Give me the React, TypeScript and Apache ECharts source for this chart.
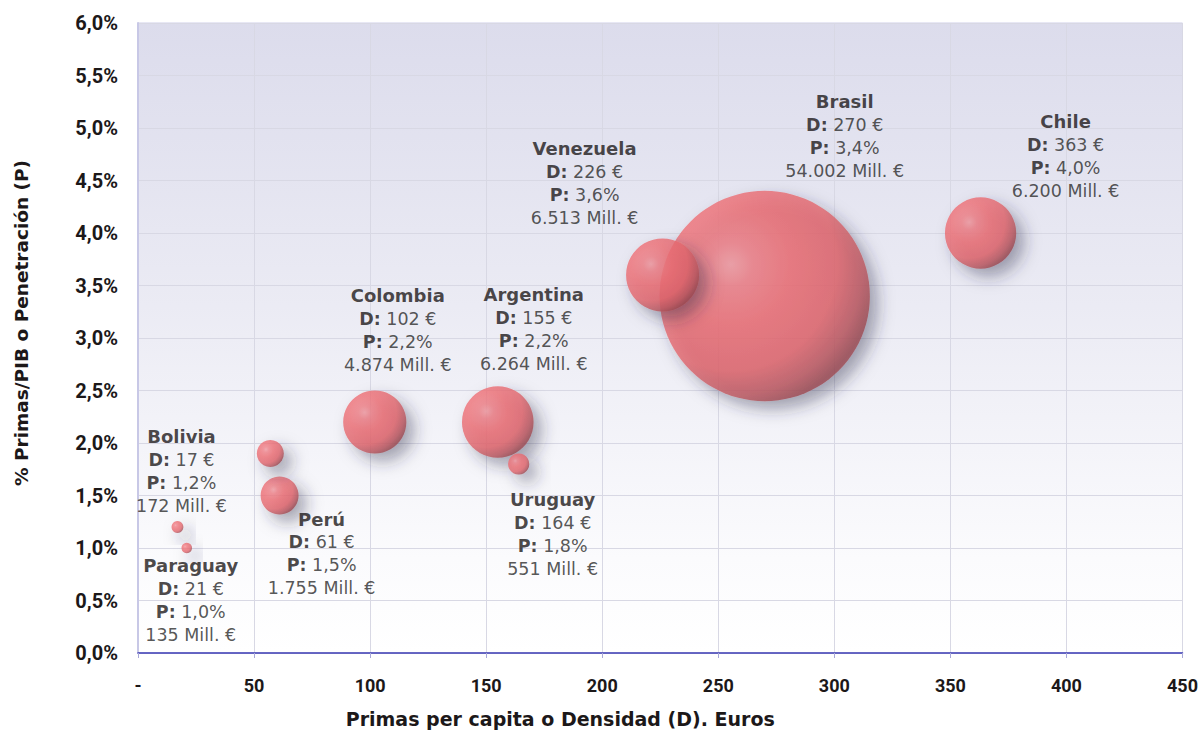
import React, { useEffect, useRef } from 'react';
import * as echarts from 'echarts';

// Insurance markets: density (premiums per capita, €), penetration (premiums / GDP, %)
// and total premium volume (million €) that sets the bubble area.
const countries = ['Brasil', 'Chile', 'Venezuela', 'Argentina', 'Colombia', 'Perú', '', 'Uruguay', 'Bolivia', 'Paraguay'];
const density = [270, 363, 226, 155, 102, 61, 57, 164, 17, 21];
const penetration = [3.4, 4.0, 3.6, 2.2, 2.2, 1.5, 1.9, 1.8, 1.2, 1.0];
const premiums = [54002, 6200, 6513, 6264, 4874, 1755, 890, 551, 172, 135];

const xMin = 0;
const xMax = 450;
const xStep = 50;
const yMin = 0;
const yMax = 6;
const yStep = 0.5;

const xAxisTitle = 'Primas per capita o Densidad (D). Euros';
const yAxisTitle = '% Primas/PIB o Penetración (P)';

// Pixel shift of each country's annotation from its bubble centre.
const labelShift: Record<string, [number, number]> = {
  Brasil: [80, -160],
  Chile: [85, -77],
  Venezuela: [-78, -92],
  Argentina: [36, -93],
  Colombia: [23, -92],
  'Perú': [42, 58],
  Uruguay: [34, 70],
  Bolivia: [4, -56],
  Paraguay: [4, 52],
};

const LABEL_FONT = '"DejaVu Sans", "Open Sans", sans-serif';
const AXIS_FONT = 'Roboto, "DejaVu Sans", sans-serif';
const INK = '#1c1819';
const VALUE_INK = '#2b2b2b';

const thousands = (v: number) => String(v).replace(/\B(?=(\d{3})+(?!\d))/g, '.');
const decimal = (v: number) => v.toFixed(1).replace('.', ',');

export default function App() {
  const ref = useRef<HTMLDivElement>(null);

  useEffect(() => {
    if (!ref.current) return;
    const chart = echarts.init(ref.current, undefined, { renderer: 'svg' });

    const bubbleFill = new echarts.graphic.RadialGradient(0.34, 0.35, 0.7, [
      { offset: 0, color: '#f29aa1' },
      { offset: 0.15, color: '#f08087' },
      { offset: 0.4, color: '#ee6f75' },
      { offset: 0.72, color: '#e2666d' },
      { offset: 0.9, color: '#bc5860' },
      { offset: 1, color: '#9b4a52' },
    ]);

    const points = countries.map((name, i) => {
      const shift = labelShift[name];
      return {
        name,
        value: [density[i], penetration[i], premiums[i]],
        label: shift
          ? { show: true, position: 'inside', offset: shift }
          : { show: false },
      };
    });

    const option: any = {
      animation: false,
      backgroundColor: '#ffffff',
      textStyle: { fontFamily: AXIS_FONT },
      grid: {
        left: 138,
        right: 14,
        top: 23,
        bottom: 75,
        show: true,
        borderWidth: 1,
        borderColor: '#cfcfe8',
        backgroundColor: new echarts.graphic.LinearGradient(0, 0, 0, 1, [
          { offset: 0, color: '#dcdcec' },
          { offset: 0.45, color: '#ebebf4' },
          { offset: 0.85, color: '#fbfbfd' },
          { offset: 1, color: '#ffffff' },
        ]),
      },
      xAxis: {
        type: 'value',
        min: xMin,
        max: xMax,
        interval: xStep,
        name: xAxisTitle,
        nameLocation: 'middle',
        nameGap: 56,
        nameTextStyle: {
          fontFamily: LABEL_FONT,
          fontSize: 19,
          fontWeight: 'bold',
          color: INK,
          padding: [0, 200, 0, 0],
        },
        axisLine: { show: true, lineStyle: { color: '#3d3db5', width: 1.5 } },
        axisTick: { show: true, length: 5, lineStyle: { color: '#a8a8d8' } },
        axisLabel: {
          margin: 23,
          fontFamily: AXIS_FONT,
          fontSize: 18,
          fontWeight: 'bold',
          color: INK,
          formatter: (v: number) => (v === 0 ? '-' : String(v)),
        },
        splitLine: { show: true, lineStyle: { color: '#d8d8e4', width: 1 } },
      },
      yAxis: {
        type: 'value',
        min: yMin,
        max: yMax,
        interval: yStep,
        name: yAxisTitle,
        nameLocation: 'middle',
        nameRotate: 90,
        nameGap: 107,
        nameTextStyle: {
          fontFamily: LABEL_FONT,
          fontSize: 18.5,
          fontWeight: 'bold',
          color: INK,
          padding: [0, 0, 0, 30],
        },
        axisLine: { show: true, lineStyle: { color: '#c8c8e6', width: 2 } },
        axisTick: { show: false },
        axisLabel: {
          margin: 20,
          fontFamily: AXIS_FONT,
          fontSize: 20,
          fontWeight: 'bold',
          color: INK,
          formatter: (v: number) => decimal(v) + '%',
        },
        splitLine: { show: true, lineStyle: { color: '#d8d8e4', width: 1 } },
      },
      series: [
        {
          type: 'scatter',
          data: points,
          symbol: 'circle',
          symbolSize: (val: number[]) => 0.905 * Math.sqrt(val[2]),
          itemStyle: {
            color: bubbleFill,
            shadowColor: 'rgba(40, 40, 70, 0.5)',
            shadowBlur: 16,
            shadowOffsetX: 8,
            shadowOffsetY: 8,
          },
          emphasis: { disabled: true },
          label: {
            show: true,
            position: 'inside',
            align: 'center',
            verticalAlign: 'middle',
            formatter: (p: any) => {
              const [d, pen, prem] = p.value;
              return [
                `{n|${p.name}}`,
                `{b|D:}{v| ${d} €}`,
                `{b|P:}{v| ${decimal(pen)}%}`,
                `{v|${thousands(prem)} Mill. €}`,
              ].join('\n');
            },
            rich: {
              n: { fontFamily: LABEL_FONT, fontSize: 18, fontWeight: 'bold', color: INK, lineHeight: 23 },
              b: { fontFamily: LABEL_FONT, fontSize: 17.5, fontWeight: 'bold', color: INK, lineHeight: 23 },
              v: { fontFamily: LABEL_FONT, fontSize: 17.5, fontWeight: 'normal', color: VALUE_INK, lineHeight: 23 },
            },
          },
        },
      ],
    };

    chart.setOption(option);
    return () => chart.dispose();
  }, []);

  return (
    <div
      ref={ref}
      style={{ position: 'fixed', left: 0, top: 0, width: 1201, height: 733 }}
    />
  );
}
